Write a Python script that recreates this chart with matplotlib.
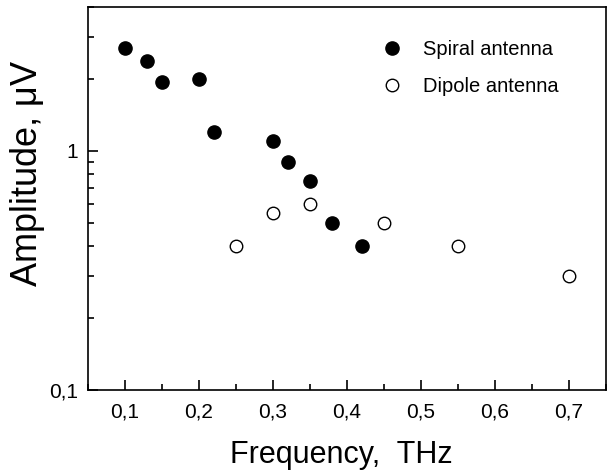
import numpy as np
import matplotlib
matplotlib.use("Agg")
import matplotlib.pyplot as plt
from matplotlib.ticker import FixedLocator, FuncFormatter, LogLocator, NullFormatter, MultipleLocator

plt.rcParams['font.family'] = ['Liberation Sans', 'DejaVu Sans']

# === Data
spiral_f = [0.10, 0.13, 0.15, 0.20, 0.22, 0.30, 0.32, 0.35, 0.38, 0.42]
spiral_a = [2.70, 2.38, 1.94, 2.00, 1.20, 1.10, 0.90, 0.75, 0.50, 0.40]
dipole_f = [0.25, 0.30, 0.35, 0.45, 0.55, 0.70]
dipole_a = [0.40, 0.55, 0.60, 0.50, 0.40, 0.30]
x_ticks = [0.1, 0.2, 0.3, 0.4, 0.5, 0.6, 0.7]

fig = plt.figure(figsize=(6.09, 4.72), dpi=100)
ax = fig.add_axes([0.1445, 0.1737, 0.8505, 0.8113])

ax.plot(spiral_f, spiral_a, 'o', color='black', markersize=9.5, linestyle='none',
        label='Spiral antenna')
ax.plot(dipole_f, dipole_a, 'o', markerfacecolor='white', markeredgecolor='black',
        markeredgewidth=1.0, markersize=9, linestyle='none', label='Dipole antenna')

ax.set_yscale('log')
ax.set_xlim(0.05, 0.75)
ax.set_ylim(0.1, 4.0)

comma = FuncFormatter(lambda v, p: ('%g' % v).replace('.', ','))
ax.xaxis.set_major_locator(FixedLocator(x_ticks))
ax.xaxis.set_minor_locator(MultipleLocator(0.05))
ax.xaxis.set_major_formatter(comma)
ax.yaxis.set_major_locator(FixedLocator([0.1, 1]))
ax.yaxis.set_major_formatter(comma)
ax.yaxis.set_minor_locator(LogLocator(base=10, subs=np.arange(2, 10)))
ax.yaxis.set_minor_formatter(NullFormatter())

ax.tick_params(which='both', direction='in', top=False, right=False, width=1.2,
               labelsize=15)
ax.tick_params(axis='x', pad=9)
ax.tick_params(axis='y', pad=7)
ax.tick_params(which='major', length=7)
ax.tick_params(which='minor', length=4)
for s in ax.spines.values():
    s.set_linewidth(1.2)

ax.set_xlabel('Frequency,  THz', fontsize=22)
ax.set_ylabel('Amplitude, $\\mathregular{\\mu}$V', fontsize=26)
ax.xaxis.set_label_coords(0.49, -0.13)
ax.yaxis.set_label_coords(-0.08, 0.566)

ax.legend(loc='upper left', frameon=False, fontsize=14.5, handlelength=1.0,
          handletextpad=1.05, labelspacing=0.9, borderpad=0, borderaxespad=0,
          bbox_to_anchor=(0.5676, 0.914))

fig.savefig('out.png', dpi=100)
